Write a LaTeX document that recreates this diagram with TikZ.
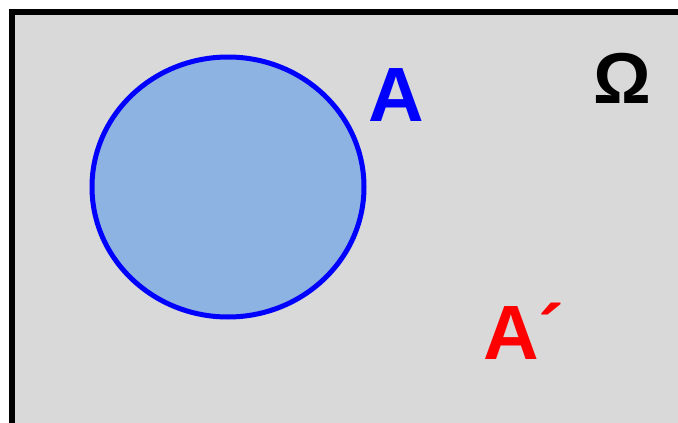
\documentclass[tikz,border=0pt]{standalone}
\usepackage{fontspec}
\setmainfont{Liberation Sans}
\usepackage{xcolor}
\usepackage{tikz}
\definecolor{univgray}{HTML}{D9D9D9}
\definecolor{setfill}{HTML}{8DB3E2}

\begin{document}
\begin{tikzpicture}[
  x=1pt, y=-1pt,
  setlabel/.style={inner sep=0pt, font=\bfseries\fontsize{77}{77}\selectfont},
  univ/.style={draw=black, line width=6pt, fill=univgray},
  setA/.style={draw=blue, line width=5pt, fill=setfill}
]
\clip (0,0) rectangle (678,423);
\useasboundingbox (0,0) rectangle (678,423);
\draw[univ] (12,12) rectangle (700,440);
\draw[setA] (228,187) ellipse (136 and 130);
\node[setlabel, text=blue]  (labA)     at (396,95)  {A};
\node[setlabel, text=black, font=\bfseries\fontsize{72}{72}\selectfont]
  (labOmega) at (622,78) {Ω};
\node[setlabel, text=red]   (labAc)    at (524,331) {A´};
\end{tikzpicture}
\end{document}
